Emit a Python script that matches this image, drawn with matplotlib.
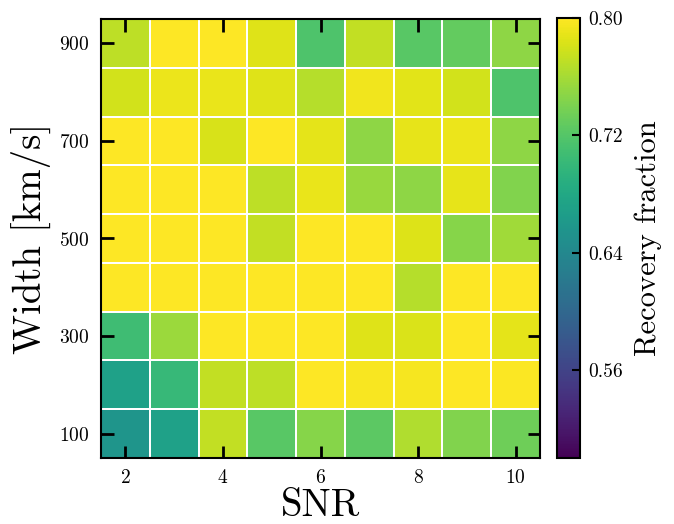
import numpy as np
import matplotlib
matplotlib.use("Agg")
import matplotlib.pyplot as plt

plt.rcParams['font.family'] = 'serif'
plt.rcParams['font.serif'] = ['cmr10']
plt.rcParams['mathtext.fontset'] = 'cm'
plt.rcParams['axes.unicode_minus'] = False
plt.rcParams['axes.formatter.use_mathtext'] = True

snr = [2, 3, 4, 5, 6, 7, 8, 9, 10]
width = [100, 200, 300, 400, 500, 600, 700, 800, 900]

# rows: width 100 -> 900, columns: SNR 2 -> 10
recovery = [
    [0.656, 0.670, 0.773, 0.722, 0.745, 0.725, 0.764, 0.743, 0.734],  # 100
    [0.671, 0.701, 0.772, 0.770, 0.800, 0.797, 0.796, 0.800, 0.798],  # 200
    [0.707, 0.755, 0.800, 0.800, 0.800, 0.785, 0.783, 0.800, 0.788],  # 300
    [0.800, 0.800, 0.800, 0.800, 0.800, 0.800, 0.767, 0.800, 0.800],  # 400
    [0.800, 0.800, 0.800, 0.773, 0.800, 0.800, 0.784, 0.745, 0.757],  # 500
    [0.800, 0.800, 0.800, 0.770, 0.790, 0.754, 0.749, 0.789, 0.743],  # 600
    [0.800, 0.799, 0.782, 0.800, 0.788, 0.749, 0.789, 0.791, 0.749],  # 700
    [0.779, 0.791, 0.790, 0.785, 0.767, 0.794, 0.786, 0.779, 0.716],  # 800
    [0.770, 0.800, 0.800, 0.785, 0.716, 0.773, 0.722, 0.728, 0.749],  # 900
]
xticks = [2, 4, 6, 8, 10]
yticks = [100, 300, 500, 700, 900]
cbar_ticks = [0.56, 0.64, 0.72, 0.80]

fig = plt.figure(figsize=(6.74, 5.24), dpi=100)
ax = fig.add_axes([101/674, 1 - 458/524, 439/674, 439/524])
cax = fig.add_axes([557/674, 1 - 458/524, 23/674, 440/524])

xe = np.concatenate([[snr[0] - 0.5], np.array(snr) + 0.5])
ye = np.concatenate([[width[0] - 50], np.array(width) + 50])
mesh = ax.pcolormesh(xe, ye, np.array(recovery), cmap='viridis', vmin=0.5, vmax=0.8,
                     edgecolors='white', linewidth=1.2)

ax.set_xticks(xticks)
ax.set_yticks(yticks)
ax.tick_params(direction='in', length=9, width=2, top=True, right=True,
               labelsize=14, pad=8)
for s in ax.spines.values():
    s.set_linewidth(1.5)
ax.set_xlabel('SNR', fontsize=28, labelpad=1)
ax.set_ylabel('Width [km/s]', fontsize=28, labelpad=6)

cb = fig.colorbar(mesh, cax=cax)
cb.set_ticks(cbar_ticks)
cb.ax.set_yticklabels(['0.56', '0.64', '0.72', '0.80'])
cb.ax.tick_params(direction='in', length=6, width=1.5, labelsize=14, pad=6)
cb.outline.set_linewidth(1.5)
cb.set_label('Recovery fraction', fontsize=22, labelpad=8)

fig.savefig('out.png', dpi=100)
